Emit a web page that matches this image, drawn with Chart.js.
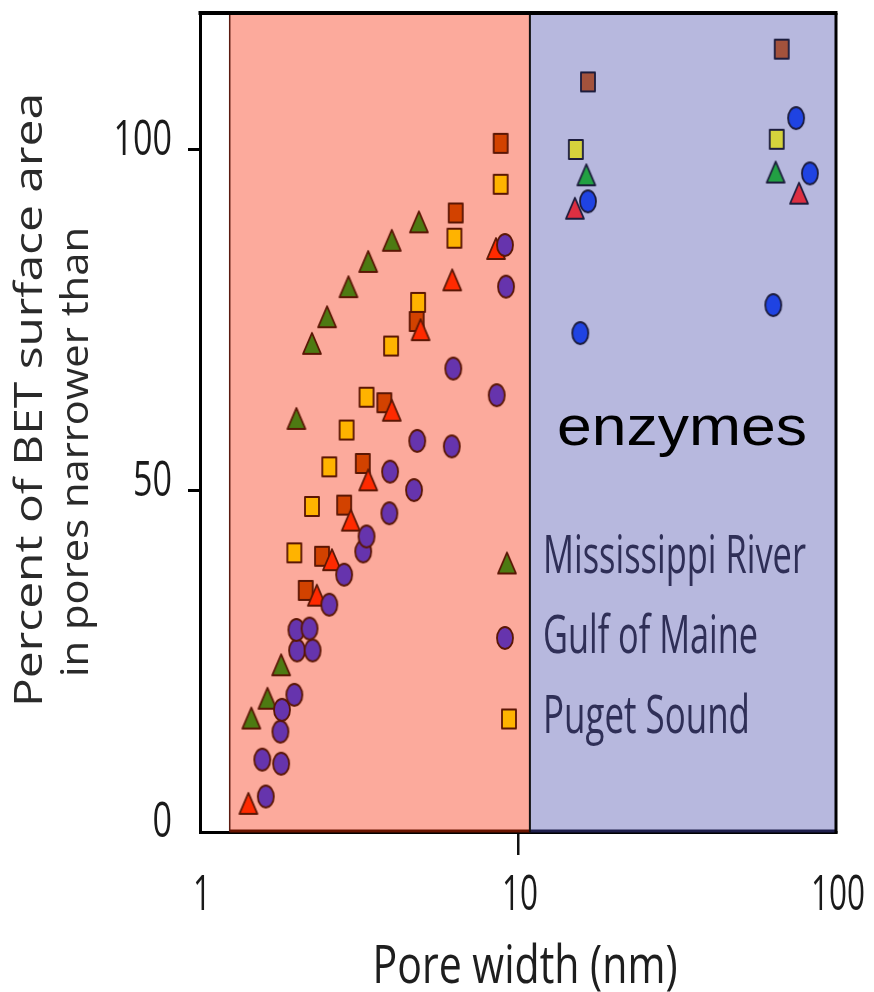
<!DOCTYPE html>
<html>
<head>
<meta charset="utf-8">
<title>BET surface area by pore width</title>
<script src="https://cdn.jsdelivr.net/npm/chart.js@4.4.1/dist/chart.umd.min.js"></script>
<style>
  html, body { margin: 0; padding: 0; background: #fff; }
  #wrap { width: 874px; height: 992px; }
</style>
</head>
<body>
<div id="wrap"><canvas id="chart" width="874" height="992"></canvas></div>
<script>
/* ── DATA ── pore width (nm) vs percent of BET surface area */
const mississippiX = [1.45, 1.63, 1.80, 2.01, 2.25, 2.51, 2.93, 3.38, 4.01, 4.88];
const mississippiY = [16.7, 19.6, 24.5, 60.6, 71.6, 75.5, 79.9, 83.6, 86.7, 89.4];

const maineX = [1.61, 1.57, 1.80, 1.79, 1.81, 1.98, 2.02, 2.26, 2.01, 2.21, 2.55, 2.84,
                3.26, 3.34, 3.94, 3.96, 4.71, 4.82, 6.19, 6.26, 8.57, 9.17, 9.10];
const maineY = [5.2, 10.6, 10.0, 14.7, 17.9, 20.1, 26.6, 26.6, 29.6, 29.8, 33.3, 37.7,
                41.1, 43.3, 46.7, 52.8, 50.1, 57.3, 56.5, 67.9, 64.0, 79.9, 86.0];

const pugetX = [1.98, 2.25, 2.55, 2.89, 3.34, 3.99, 4.85, 6.31, 8.82];
const pugetY = [40.9, 47.7, 53.5, 58.9, 63.7, 71.2, 77.6, 87.0, 94.9];

// unnamed series: rust squares and red triangles
const rustSquareX = [2.15, 2.42, 2.84, 3.25, 3.80, 4.80, 6.37, 8.82];
const rustSquareY = [35.4, 40.4, 47.9, 54.0, 62.9, 74.8, 90.7, 100.9];

const redTriX = [1.42, 2.33, 2.60, 2.98, 3.38, 4.01, 4.94, 6.21, 8.53];
const redTriY = [4.2, 34.7, 39.9, 45.7, 51.6, 61.8, 73.6, 80.9, 85.5];

// enzyme-sized points
const enzSquareX = [16.6, 67.5];
const enzSquareY = [109.9, 114.7];
const enzYellowX = [15.2, 65.1];
const enzYellowY = [100.0, 101.5];
const enzGreenX = [16.4, 64.6];
const enzGreenY = [96.3, 96.7];
const enzBlueX = [16.6, 15.7, 74.9, 82.8, 63.5];
const enzBlueY = [92.4, 73.1, 104.6, 96.5, 77.2];
const enzRedX = [15.1, 76.5];
const enzRedY = [91.4, 93.6];

const xTicks = [1, 10, 100];
const yTicks = [0, 50, 100];

const legendLabels = ['Mississippi River', 'Gulf of Maine', 'Puget Sound'];
const yTitle = ['Percent of BET surface area', 'in pores narrower than'];
const xTitle = 'Pore width (nm)';
const regionLabel = 'enzymes';

/* ── MARKERS ── */
function makeMarker(shape, fill, stroke, w, h) {
  const c = document.createElement('canvas');
  c.width = w + 4;
  c.height = h + 4;
  const g = c.getContext('2d');
  g.fillStyle = fill;
  g.strokeStyle = stroke;
  g.lineWidth = 1.8;
  g.lineJoin = 'round';
  g.beginPath();
  if (shape === 'tri') {
    g.moveTo(c.width / 2, 2);
    g.lineTo(w + 2, h + 2);
    g.lineTo(2, h + 2);
    g.closePath();
  } else if (shape === 'ell') {
    g.ellipse(c.width / 2, c.height / 2, w / 2, h / 2, 0, 0, Math.PI * 2);
  } else {
    g.rect(2, 2, w, h);
  }
  g.fill();
  g.stroke();
  return c;
}

const OUT_L = '#5a1604';
const OUT_R = '#1c1c3c';
const mk = {
  miss:   makeMarker('tri',  '#4d7a12', OUT_L, 18, 21),
  maine:  makeMarker('ell',  '#6634ad', OUT_L, 16, 22),
  puget:  makeMarker('rect', '#ffb300', OUT_L, 14, 19),
  rust:   makeMarker('rect', '#d24200', OUT_L, 14, 19),
  redTri: makeMarker('tri',  '#ff2a00', OUT_L, 18, 21),
  eSq:    makeMarker('rect', '#a3523c', OUT_R, 14, 19),
  eYel:   makeMarker('rect', '#d6d33c', OUT_R, 14, 19),
  eGrn:   makeMarker('tri',  '#22a043', OUT_R, 18, 21),
  eBlue:  makeMarker('ell',  '#1f43e2', OUT_R, 16, 22),
  eRed:   makeMarker('tri',  '#dd2f42', OUT_R, 18, 21),
};

function pts(xs, ys) { return xs.map((x, i) => ({ x, y: ys[i] })); }

// first dataset is drawn on top
const datasets = [
  { label: legendLabels[1], data: pts(maineX, maineY), pointStyle: mk.maine },
  { label: legendLabels[0], data: pts(mississippiX, mississippiY), pointStyle: mk.miss },
  { label: legendLabels[2], data: pts(pugetX, pugetY), pointStyle: mk.puget },
  { label: 'red triangles', data: pts(redTriX, redTriY), pointStyle: mk.redTri },
  { label: 'rust squares', data: pts(rustSquareX, rustSquareY), pointStyle: mk.rust },
  { label: 'enzyme circles', data: pts(enzBlueX, enzBlueY), pointStyle: mk.eBlue },
  { label: 'enzyme triangles', data: pts(enzGreenX, enzGreenY), pointStyle: mk.eGrn },
  { label: 'enzyme red triangles', data: pts(enzRedX, enzRedY), pointStyle: mk.eRed },
  { label: 'enzyme yellow squares', data: pts(enzYellowX, enzYellowY), pointStyle: mk.eYel },
  { label: 'enzyme squares', data: pts(enzSquareX, enzSquareY), pointStyle: mk.eSq },
].map(d => Object.assign(d, { pointRadius: 8, showLine: false }));

/* ── TEXT HELPERS ── */
const SANS = '"Open Sans", "Noto Sans", sans-serif';

// draw text squeezed or stretched along its run to a given width
function fitText(ctx, text, x, y, width, align, rot) {
  const w = ctx.measureText(text).width;
  ctx.save();
  ctx.translate(x, y);
  if (rot) ctx.rotate(rot);
  ctx.scale(width / w, 1);
  ctx.textAlign = align;
  ctx.textBaseline = 'alphabetic';
  ctx.fillText(text, 0, 0);
  ctx.restore();
}

/* ── DECORATION PLUGIN ── shaded size ranges, frame, labels, legend */
const REGION_START = 1.24;
const REGION_SPLIT = 10.9;

const decor = {
  id: 'decor',
  beforeDatasetsDraw(chart) {
    const { ctx, chartArea: a, scales: { x } } = chart;
    const x0 = x.getPixelForValue(REGION_START);
    const x1 = x.getPixelForValue(REGION_SPLIT);
    ctx.save();
    ctx.fillStyle = '#fcaa9c';
    ctx.fillRect(x0, a.top, x1 - x0, a.bottom - a.top);
    ctx.fillStyle = '#b7b8de';
    ctx.fillRect(x1, a.top, a.right - x1, a.bottom - a.top);

    ctx.lineWidth = 3;
    ctx.strokeStyle = '#6a1400';
    ctx.beginPath(); ctx.moveTo(x0, a.bottom - 1); ctx.lineTo(x1, a.bottom - 1); ctx.stroke();
    ctx.strokeStyle = '#1f1f4c';
    ctx.beginPath(); ctx.moveTo(x1, a.bottom - 1); ctx.lineTo(a.right, a.bottom - 1); ctx.stroke();

    ctx.lineWidth = 1.5;
    ctx.strokeStyle = '#5a1a10';
    ctx.beginPath(); ctx.moveTo(x0, a.top); ctx.lineTo(x0, a.bottom); ctx.stroke();
    ctx.lineWidth = 2;
    ctx.strokeStyle = '#111';
    ctx.beginPath(); ctx.moveTo(x1, a.top); ctx.lineTo(x1, a.bottom); ctx.stroke();

    // top and right edges of the frame
    ctx.strokeStyle = '#000';
    ctx.lineWidth = 4;
    ctx.beginPath(); ctx.moveTo(a.left - 1.5, a.top); ctx.lineTo(a.right + 1.5, a.top); ctx.stroke();
    ctx.lineWidth = 3;
    ctx.beginPath(); ctx.moveTo(a.right, a.top); ctx.lineTo(a.right, a.bottom + 1.5); ctx.stroke();
    ctx.restore();
  },
  afterDatasetsDraw(chart) {
    const { ctx, scales: { x, y } } = chart;
    ctx.save();

    // tick labels, narrow and tall
    ctx.font = '49px ' + SANS;
    ctx.fillStyle = '#1a1a1a';
    y.ticks.forEach(t => {
      const s = String(t.value);
      fitText(ctx, s, 172, y.getPixelForValue(t.value) + 5, 19.5 * s.length, 'right');
    });
    x.ticks.forEach(t => {
      const s = String(t.value);
      fitText(ctx, s, x.getPixelForValue(t.value) + 2, 910, 18 * s.length, 'center');
    });

    // legend
    const items = [
      { ds: 1, mx: 507, my: 563, base: 573, w: 263 },
      { ds: 0, mx: 505, my: 638, base: 653, w: 215 },
      { ds: 2, mx: 509, my: 719, base: 733, w: 207 },
    ];
    ctx.font = '53px ' + SANS;
    ctx.fillStyle = '#2f2f57';
    items.forEach(it => {
      const d = chart.data.datasets[it.ds];
      const img = d.pointStyle;
      ctx.drawImage(img, it.mx - img.width / 2, it.my - img.height / 2);
      fitText(ctx, d.label, 543, it.base, it.w, 'left');
    });

    // region label
    ctx.font = '56px "Liberation Sans", Arial, sans-serif';
    ctx.fillStyle = '#000';
    fitText(ctx, regionLabel, 557, 445, 250, 'left');

    // y axis title, two rotated lines
    ctx.font = '38px ' + SANS;
    ctx.fillStyle = '#2a2a2a';
    fitText(ctx, yTitle[0], 42, 400, 614, 'center', -Math.PI / 2);
    fitText(ctx, yTitle[1], 88, 452, 450, 'center', -Math.PI / 2);

    // x axis title
    ctx.font = '53px ' + SANS;
    ctx.fillStyle = '#1e1e1e';
    fitText(ctx, xTitle, 525, 983, 305, 'center');
    ctx.restore();
  }
};

/* ── CHART ── */
new Chart(document.getElementById('chart'), {
  type: 'scatter',
  data: { datasets },
  options: {
    responsive: false,
    animation: false,
    events: [],
    layout: { padding: { top: 13, right: 38, left: 0, bottom: 0 } },
    plugins: { legend: { display: false }, tooltip: { enabled: false } },
    scales: {
      x: {
        type: 'logarithmic',
        min: 1,
        max: 100,
        afterBuildTicks: s => { s.ticks = xTicks.map(v => ({ value: v })); },
        afterFit: s => { s.height = 160; s.paddingLeft = 0; s.paddingRight = 0; },
        ticks: { display: false },
        grid: {
          drawOnChartArea: false,
          tickLength: 23,
          lineWidth: 2.5,
          color: c => (c.tick && c.tick.value === 10 ? '#111' : 'rgba(0,0,0,0)')
        },
        border: { display: true, color: '#000', width: 3 }
      },
      y: {
        min: 0,
        max: 120,
        afterBuildTicks: s => { s.ticks = yTicks.map(v => ({ value: v })); },
        afterFit: s => { s.width = 200; s.paddingTop = 0; s.paddingBottom = 0; },
        ticks: { display: false },
        grid: {
          drawOnChartArea: false,
          tickLength: 12,
          lineWidth: 3,
          color: c => (c.tick && c.tick.value === 0 ? 'rgba(0,0,0,0)' : '#000')
        },
        border: { display: true, color: '#000', width: 3 }
      }
    }
  },
  plugins: [decor]
});
</script>
</body>
</html>
